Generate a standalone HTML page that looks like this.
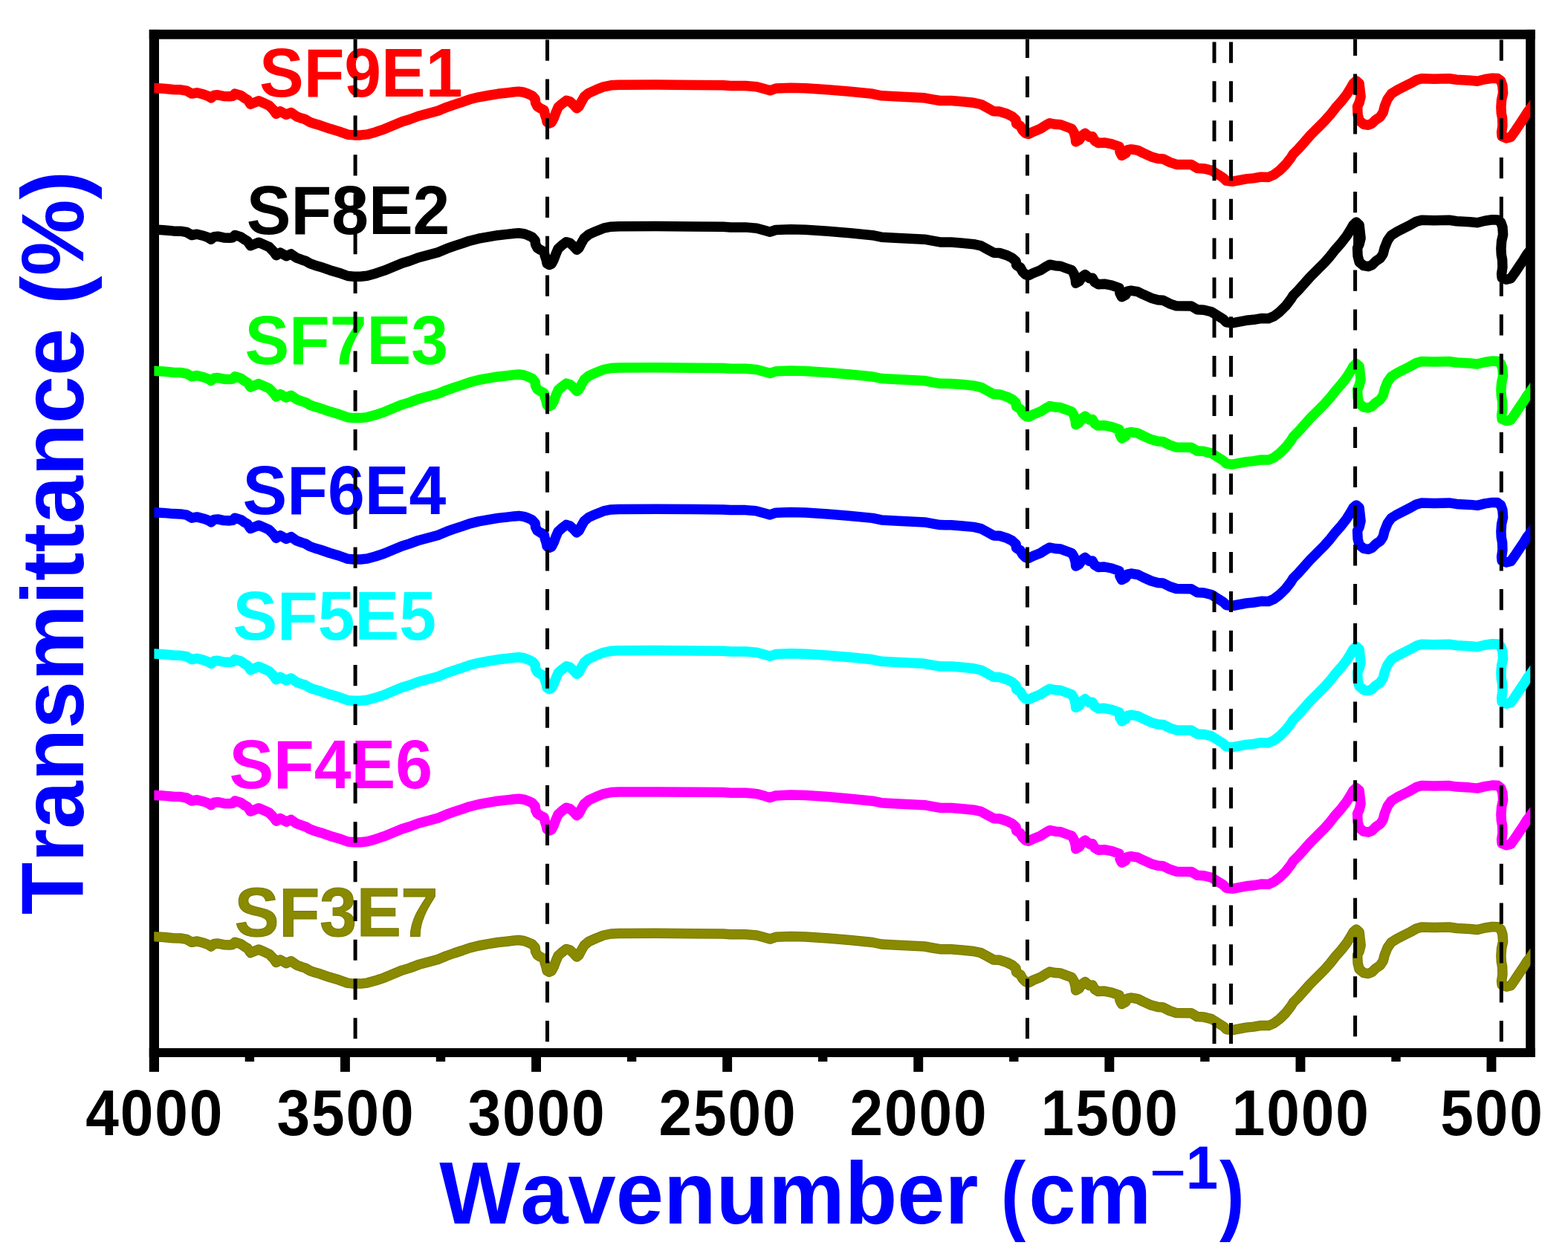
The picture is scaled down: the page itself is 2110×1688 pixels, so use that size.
<!DOCTYPE html>
<html lang="en">
<head>
<meta charset="utf-8">
<title>FTIR spectra</title>
<style>
html,body{margin:0;padding:0;background:#fff;}
body{width:2110px;height:1688px;overflow:hidden;}
svg{display:block;}
text{font-family:"Liberation Sans",sans-serif;font-weight:bold;font-kerning:none;}
.tick{font-size:84.5px;fill:#000;text-anchor:middle;}
.lab{font-size:89.5px;}
.curve{fill:none;stroke-width:13.5;stroke-linejoin:round;stroke-linecap:butt;}
.dash{stroke:#000;stroke-width:5;stroke-dasharray:28.2 24.616;}
</style>
</head>
<body>
<svg width="2110" height="1688" viewBox="0 0 2110 1688">
<rect x="0" y="0" width="2110" height="1688" fill="#ffffff"/>
<g id="labels">
<text class="lab" transform="translate(349.0,130.1) scale(1,1.04)" fill="#ff0000">SF9E1</text>
<text class="lab" transform="translate(331.8,315.4) scale(1,1.04)" fill="#000000">SF8E2</text>
<text class="lab" transform="translate(329.4,490.1) scale(1,1.04)" fill="#00ff00">SF7E3</text>
<text class="lab" transform="translate(326.6,691.9) scale(1,1.04)" fill="#0000ff">SF6E4</text>
<text class="lab" transform="translate(313.4,860.9) scale(1,1.04)" fill="#00ffff">SF5E5</text>
<text class="lab" transform="translate(308.4,1060.7) scale(1,1.04)" fill="#ff00ff">SF4E6</text>
<text class="lab" transform="translate(315.8,1260.3) scale(1,1.04)" fill="#8a8a00" stroke="#777700" stroke-width="1" paint-order="fill">SF3E7</text>
</g>
<g id="frame" fill="#000">
<rect x="200.8" y="39.9" width="1864.9" height="12.8"/>
<rect x="200.8" y="1410.9" width="1864.9" height="12.1"/>
<rect x="200.8" y="39.9" width="13.2" height="1402.9"/>
<rect x="2053.2" y="39.9" width="12.5" height="1383.1"/>
<rect x="458.0" y="1417" width="12.9" height="25.8"/>
<rect x="715.1" y="1417" width="12.9" height="25.8"/>
<rect x="972.2" y="1417" width="12.9" height="25.8"/>
<rect x="1229.3" y="1417" width="12.9" height="25.8"/>
<rect x="1486.4" y="1417" width="12.9" height="25.8"/>
<rect x="1743.5" y="1417" width="12.9" height="25.8"/>
<rect x="2000.5" y="1417" width="12.9" height="25.8"/>
<rect x="329.7" y="1417" width="12.4" height="12.0"/>
<rect x="586.8" y="1417" width="12.4" height="12.0"/>
<rect x="843.9" y="1417" width="12.4" height="12.0"/>
<rect x="1101.0" y="1417" width="12.4" height="12.0"/>
<rect x="1358.1" y="1417" width="12.4" height="12.0"/>
<rect x="1615.2" y="1417" width="12.4" height="12.0"/>
<rect x="1872.3" y="1417" width="12.4" height="12.0"/>
</g>
<g id="ticklabels">
<text class="tick" transform="translate(208.3,1528.3) scale(0.95,1.037)" style="letter-spacing:1.95px">4000</text>
<text class="tick" transform="translate(465.4,1528.3) scale(0.95,1.037)" style="letter-spacing:1.95px">3500</text>
<text class="tick" transform="translate(722.5,1528.3) scale(0.95,1.037)" style="letter-spacing:1.95px">3000</text>
<text class="tick" transform="translate(979.6,1528.3) scale(0.95,1.037)" style="letter-spacing:1.95px">2500</text>
<text class="tick" transform="translate(1236.6,1528.3) scale(0.95,1.037)" style="letter-spacing:1.95px">2000</text>
<text class="tick" transform="translate(1493.7,1528.3) scale(0.95,1.037)" style="letter-spacing:1.95px">1500</text>
<text class="tick" transform="translate(1750.8,1528.3) scale(0.95,1.037)" style="letter-spacing:1.95px">1000</text>
<text class="tick" transform="translate(2007.9,1528.3) scale(0.95,1.037)" style="letter-spacing:1.95px">500</text>
</g>
<clipPath id="plotclip"><rect x="207.4" y="40" width="1851.9" height="1383"/></clipPath>
<g id="curves" clip-path="url(#plotclip)">
<path class="curve" stroke="#ff0000" d="M194.0,117.9 L207.5,118.6 L220.0,119.3 L233.0,120.5 L243.0,120.8 L251.0,122.1 L258.1,126.1 L265.1,124.8 L274.1,127.1 L280.1,129.3 L284.1,131.8 L288.1,128.3 L293.1,127.8 L301.1,129.5 L309.1,129.8 L313.1,129.3 L316.1,126.1 L324.1,128.5 L329.1,132.1 L333.1,134.3 L337.1,140.3 L342.1,138.3 L348.1,135.8 L356.1,139.3 L362.2,142.1 L368.2,148.3 L371.7,153.3 L377.2,149.8 L385.2,154.3 L391.7,151.5 L399.2,156.8 L406.2,159.3 L411.0,160.8 L417.0,164.3 L424.0,166.8 L431.0,168.8 L444.0,173.3 L456.0,176.9 L468.1,181.2 L476.1,181.9 L485.1,181.9 L494.1,180.9 L505.1,177.9 L517.1,173.8 L529.1,168.8 L541.1,163.8 L551.1,160.8 L563.1,156.3 L576.2,152.8 L589.2,149.3 L601.2,144.3 L611.2,140.8 L622.0,137.3 L632.0,133.8 L644.0,130.8 L657.0,128.5 L670.0,126.3 L682.1,125.0 L692.1,123.8 L698.1,123.3 L705.1,124.3 L710.1,126.1 L716.1,128.8 L720.1,133.3 L720.6,138.3 L723.1,143.3 L727.1,145.8 L732.1,148.3 L733.1,153.3 L735.1,159.3 L736.1,164.3 L739.1,166.1 L742.1,164.8 L745.1,159.3 L748.1,151.3 L751.1,144.3 L756.1,139.8 L762.1,135.3 L767.1,136.8 L772.1,141.3 L776.1,145.8 L779.1,143.3 L782.2,137.3 L786.2,130.3 L792.2,125.3 L802.2,120.8 L812.2,116.8 L822.2,114.8 L833.0,114.3 L883.0,114.1 L933.1,114.5 L973.1,114.8 L983.1,115.5 L1003.2,115.5 L1018.2,116.8 L1029.2,119.8 L1036.2,121.8 L1044.0,119.1 L1064.0,118.3 L1084.0,118.8 L1114.1,120.8 L1144.1,123.3 L1174.1,126.3 L1186.1,128.8 L1204.2,129.8 L1229.2,131.1 L1244.2,131.8 L1255.0,133.8 L1265.0,135.5 L1280.0,135.6 L1295.0,136.8 L1310.1,138.3 L1320.1,140.5 L1327.1,144.3 L1337.1,149.8 L1345.1,150.1 L1355.1,153.3 L1362.1,156.8 L1367.1,161.3 L1367.6,166.3 L1373.1,169.8 L1376.1,175.4 L1380.1,179.4 L1384.1,180.4 L1390.1,177.4 L1400.1,173.3 L1407.1,168.8 L1412.6,165.8 L1420.2,167.3 L1427.2,167.8 L1435.2,170.8 L1442.2,173.3 L1445.2,178.4 L1447.2,185.4 L1447.7,190.9 L1452.2,188.4 L1456.2,182.4 L1460.2,179.4 L1466.0,184.4 L1470.0,183.8 L1473.0,189.4 L1478.0,192.4 L1486.0,191.9 L1496.0,193.9 L1506.0,197.4 L1507.0,204.4 L1509.5,209.4 L1515.0,206.4 L1517.0,201.9 L1522.1,200.9 L1531.1,202.4 L1538.1,205.9 L1549.1,210.9 L1558.1,213.4 L1565.1,213.9 L1574.1,218.4 L1583.1,221.4 L1603.1,221.6 L1611.1,226.4 L1620.1,226.9 L1630.2,229.4 L1638.2,234.4 L1646.2,239.4 L1650.2,243.4 L1658.2,244.4 L1666.2,242.9 L1677.0,240.9 L1687.0,239.9 L1697.0,238.2 L1707.0,238.4 L1714.0,235.4 L1722.0,229.4 L1730.1,221.4 L1737.1,212.4 L1740.1,207.4 L1747.1,200.4 L1755.1,191.4 L1763.1,182.3 L1772.1,173.3 L1782.1,163.3 L1790.1,154.3 L1797.1,145.3 L1805.1,136.3 L1812.1,127.3 L1817.1,119.3 L1821.1,112.3 L1825.1,108.8 L1829.1,112.3 L1830.1,121.3 L1831.1,130.3 L1829.1,138.3 L1826.6,143.3 L1827.1,154.3 L1829.1,162.3 L1835.1,167.3 L1841.2,168.3 L1846.2,166.3 L1851.2,161.3 L1857.2,157.3 L1861.2,151.3 L1863.2,143.3 L1867.2,133.3 L1872.2,126.3 L1880.2,121.3 L1888.0,117.3 L1898.0,112.3 L1906.0,107.8 L1913.0,105.8 L1930.0,106.3 L1950.1,105.8 L1960.1,107.3 L1978.1,108.3 L1988.1,109.3 L1998.1,106.8 L2008.1,105.3 L2015.1,105.5 L2019.6,108.8 L2021.9,115.3 L2022.6,125.3 L2020.6,134.3 L2019.9,144.3 L2020.3,152.3 L2021.6,159.3 L2021.9,169.4 L2020.6,178.4 L2021.1,183.4 L2027.1,185.9 L2033.1,184.4 L2038.1,177.4 L2044.1,168.4 L2050.2,159.3 L2055.2,151.3 L2059.2,146.3 L2068.2,133.3"/>
<path class="curve" stroke="#000000" d="M194.0,308.3 L207.5,309.0 L220.0,309.7 L233.0,310.9 L243.0,311.2 L251.0,312.5 L258.1,316.5 L265.1,315.2 L274.1,317.5 L280.1,319.7 L284.1,322.2 L288.1,318.7 L293.1,318.2 L301.1,319.9 L309.1,320.2 L313.1,319.7 L316.1,316.5 L324.1,318.9 L329.1,322.5 L333.1,324.7 L337.1,330.7 L342.1,328.7 L348.1,326.2 L356.1,329.7 L362.2,332.5 L368.2,338.7 L371.7,343.7 L377.2,340.2 L385.2,344.7 L391.7,341.9 L399.2,347.2 L406.2,349.7 L411.0,351.2 L417.0,354.7 L424.0,357.2 L431.0,359.2 L444.0,363.7 L456.0,367.2 L468.1,371.5 L476.1,372.2 L485.1,372.2 L494.1,371.2 L505.1,368.2 L517.1,364.2 L529.1,359.2 L541.1,354.2 L551.1,351.2 L563.1,346.7 L576.2,343.2 L589.2,339.7 L601.2,334.7 L611.2,331.2 L622.0,327.7 L632.0,324.2 L644.0,321.2 L657.0,318.9 L670.0,316.7 L682.1,315.4 L692.1,314.2 L698.1,313.7 L705.1,314.7 L710.1,316.5 L716.1,319.2 L720.1,323.7 L720.6,328.7 L723.1,333.7 L727.1,336.2 L732.1,338.7 L733.1,343.7 L735.1,349.7 L736.1,354.7 L739.1,356.5 L742.1,355.2 L745.1,349.7 L748.1,341.7 L751.1,334.7 L756.1,330.2 L762.1,325.7 L767.1,327.2 L772.1,331.7 L776.1,336.2 L779.1,333.7 L782.2,327.7 L786.2,320.7 L792.2,315.7 L802.2,311.2 L812.2,307.2 L822.2,305.2 L833.0,304.7 L883.0,304.5 L933.1,304.9 L973.1,305.2 L983.1,305.9 L1003.2,305.9 L1018.2,307.2 L1029.2,310.2 L1036.2,312.2 L1044.0,309.5 L1064.0,308.7 L1084.0,309.2 L1114.1,311.2 L1144.1,313.7 L1174.1,316.7 L1186.1,319.2 L1204.2,320.2 L1229.2,321.5 L1244.2,322.2 L1255.0,324.2 L1265.0,325.9 L1280.0,326.0 L1295.0,327.2 L1310.1,328.7 L1320.1,330.9 L1327.1,334.7 L1337.1,340.2 L1345.1,340.5 L1355.1,343.7 L1362.1,347.2 L1367.1,351.7 L1367.6,356.7 L1373.1,360.2 L1376.1,365.7 L1380.1,369.7 L1384.1,370.7 L1390.1,367.7 L1400.1,363.7 L1407.1,359.2 L1412.6,356.2 L1420.2,357.7 L1427.2,358.2 L1435.2,361.2 L1442.2,363.7 L1445.2,368.7 L1447.2,375.7 L1447.7,381.2 L1452.2,378.7 L1456.2,372.7 L1460.2,369.7 L1466.0,374.7 L1470.0,374.2 L1473.0,379.7 L1478.0,382.7 L1486.0,382.2 L1496.0,384.2 L1506.0,387.7 L1507.0,394.7 L1509.5,399.7 L1515.0,396.7 L1517.0,392.2 L1522.1,391.2 L1531.1,392.7 L1538.1,396.2 L1549.1,401.2 L1558.1,403.7 L1565.1,404.2 L1574.1,408.8 L1583.1,411.8 L1603.1,412.0 L1611.1,416.8 L1620.1,417.3 L1630.2,419.8 L1638.2,424.8 L1646.2,429.8 L1650.2,433.8 L1658.2,434.8 L1666.2,433.3 L1677.0,431.3 L1687.0,430.3 L1697.0,428.6 L1707.0,428.8 L1714.0,425.8 L1722.0,419.8 L1730.1,411.8 L1737.1,402.7 L1740.1,397.7 L1747.1,390.7 L1755.1,381.7 L1763.1,372.7 L1772.1,363.7 L1782.1,353.7 L1790.1,344.7 L1797.1,335.7 L1805.1,326.7 L1812.1,317.7 L1817.1,309.7 L1821.1,302.7 L1825.1,299.1 L1829.1,302.7 L1830.1,311.7 L1831.1,320.7 L1829.1,328.7 L1826.6,333.7 L1827.1,344.7 L1829.1,352.7 L1835.1,357.7 L1841.2,358.7 L1846.2,356.7 L1851.2,351.7 L1857.2,347.7 L1861.2,341.7 L1863.2,333.7 L1867.2,323.7 L1872.2,316.7 L1880.2,311.7 L1888.0,307.7 L1898.0,302.7 L1906.0,298.2 L1913.0,296.2 L1930.0,296.7 L1950.1,296.2 L1960.1,297.7 L1978.1,298.7 L1988.1,299.7 L1998.1,297.2 L2008.1,295.7 L2015.1,295.9 L2019.6,299.2 L2021.9,305.7 L2022.6,315.7 L2020.6,324.7 L2019.9,334.7 L2020.3,342.7 L2021.6,349.7 L2021.9,359.7 L2020.6,368.7 L2021.1,373.7 L2027.1,376.2 L2033.1,374.7 L2038.1,367.7 L2044.1,358.7 L2050.2,349.7 L2055.2,341.7 L2059.2,336.7 L2068.2,323.7"/>
<path class="curve" stroke="#00ff00" d="M194.0,498.6 L207.5,499.3 L220.0,500.0 L233.0,501.2 L243.0,501.5 L251.0,502.8 L258.1,506.8 L265.1,505.5 L274.1,507.8 L280.1,510.0 L284.1,512.5 L288.1,509.0 L293.1,508.5 L301.1,510.2 L309.1,510.5 L313.1,510.0 L316.1,506.8 L324.1,509.2 L329.1,512.9 L333.1,515.1 L337.1,521.1 L342.1,519.1 L348.1,516.6 L356.1,520.1 L362.2,522.9 L368.2,529.1 L371.7,534.1 L377.2,530.6 L385.2,535.1 L391.7,532.3 L399.2,537.6 L406.2,540.1 L411.0,541.6 L417.0,545.1 L424.0,547.6 L431.0,549.6 L444.0,554.1 L456.0,557.6 L468.1,561.9 L476.1,562.6 L485.1,562.6 L494.1,561.6 L505.1,558.6 L517.1,554.6 L529.1,549.6 L541.1,544.6 L551.1,541.6 L563.1,537.1 L576.2,533.6 L589.2,530.1 L601.2,525.1 L611.2,521.6 L622.0,518.1 L632.0,514.6 L644.0,511.5 L657.0,509.2 L670.0,507.0 L682.1,505.7 L692.1,504.5 L698.1,504.0 L705.1,505.0 L710.1,506.8 L716.1,509.5 L720.1,514.1 L720.6,519.1 L723.1,524.1 L727.1,526.6 L732.1,529.1 L733.1,534.1 L735.1,540.1 L736.1,545.1 L739.1,546.9 L742.1,545.6 L745.1,540.1 L748.1,532.1 L751.1,525.1 L756.1,520.6 L762.1,516.1 L767.1,517.6 L772.1,522.1 L776.1,526.6 L779.1,524.1 L782.2,518.1 L786.2,511.0 L792.2,506.0 L802.2,501.5 L812.2,497.5 L822.2,495.5 L833.0,495.0 L883.0,494.8 L933.1,495.2 L973.1,495.5 L983.1,496.2 L1003.2,496.2 L1018.2,497.5 L1029.2,500.5 L1036.2,502.5 L1044.0,499.8 L1064.0,499.0 L1084.0,499.5 L1114.1,501.5 L1144.1,504.0 L1174.1,507.0 L1186.1,509.5 L1204.2,510.5 L1229.2,511.8 L1244.2,512.5 L1255.0,514.6 L1265.0,516.3 L1280.0,516.4 L1295.0,517.6 L1310.1,519.1 L1320.1,521.3 L1327.1,525.1 L1337.1,530.6 L1345.1,530.9 L1355.1,534.1 L1362.1,537.6 L1367.1,542.1 L1367.6,547.1 L1373.1,550.6 L1376.1,556.1 L1380.1,560.1 L1384.1,561.1 L1390.1,558.1 L1400.1,554.1 L1407.1,549.6 L1412.6,546.6 L1420.2,548.1 L1427.2,548.6 L1435.2,551.6 L1442.2,554.1 L1445.2,559.1 L1447.2,566.1 L1447.7,571.6 L1452.2,569.1 L1456.2,563.1 L1460.2,560.1 L1466.0,565.1 L1470.0,564.6 L1473.0,570.1 L1478.0,573.1 L1486.0,572.6 L1496.0,574.6 L1506.0,578.1 L1507.0,585.1 L1509.5,590.1 L1515.0,587.1 L1517.0,582.6 L1522.1,581.6 L1531.1,583.1 L1538.1,586.6 L1549.1,591.6 L1558.1,594.1 L1565.1,594.6 L1574.1,599.1 L1583.1,602.1 L1603.1,602.3 L1611.1,607.1 L1620.1,607.6 L1630.2,610.1 L1638.2,615.1 L1646.2,620.1 L1650.2,624.1 L1658.2,625.1 L1666.2,623.6 L1677.0,621.6 L1687.0,620.6 L1697.0,618.9 L1707.0,619.1 L1714.0,616.1 L1722.0,610.1 L1730.1,602.1 L1737.1,593.1 L1740.1,588.1 L1747.1,581.1 L1755.1,572.1 L1763.1,563.1 L1772.1,554.1 L1782.1,544.1 L1790.1,535.1 L1797.1,526.1 L1805.1,517.0 L1812.1,508.0 L1817.1,500.0 L1821.1,493.0 L1825.1,489.5 L1829.1,493.0 L1830.1,502.0 L1831.1,511.0 L1829.1,519.0 L1826.6,524.1 L1827.1,535.1 L1829.1,543.1 L1835.1,548.1 L1841.2,549.1 L1846.2,547.1 L1851.2,542.1 L1857.2,538.1 L1861.2,532.1 L1863.2,524.1 L1867.2,514.0 L1872.2,507.0 L1880.2,502.0 L1888.0,498.0 L1898.0,493.0 L1906.0,488.5 L1913.0,486.5 L1930.0,487.0 L1950.1,486.5 L1960.1,488.0 L1978.1,489.0 L1988.1,490.0 L1998.1,487.5 L2008.1,486.0 L2015.1,486.2 L2019.6,489.5 L2021.9,496.0 L2022.6,506.1 L2020.6,515.1 L2019.9,525.1 L2020.3,533.1 L2021.6,540.1 L2021.9,550.1 L2020.6,559.1 L2021.1,564.1 L2027.1,566.6 L2033.1,565.1 L2038.1,558.1 L2044.1,549.1 L2050.2,540.1 L2055.2,532.1 L2059.2,527.1 L2068.2,514.1"/>
<path class="curve" stroke="#0000ff" d="M194.0,689.0 L207.5,689.7 L220.0,690.4 L233.0,691.6 L243.0,691.9 L251.0,693.2 L258.1,697.2 L265.1,695.9 L274.1,698.2 L280.1,700.4 L284.1,702.9 L288.1,699.4 L293.1,698.9 L301.1,700.6 L309.1,700.9 L313.1,700.4 L316.1,697.2 L324.1,699.6 L329.1,703.2 L333.1,705.4 L337.1,711.4 L342.1,709.4 L348.1,706.9 L356.1,710.4 L362.2,713.2 L368.2,719.4 L371.7,724.4 L377.2,720.9 L385.2,725.4 L391.7,722.6 L399.2,727.9 L406.2,730.4 L411.0,731.9 L417.0,735.5 L424.0,738.0 L431.0,740.0 L444.0,744.5 L456.0,748.0 L468.1,752.3 L476.1,753.0 L485.1,753.0 L494.1,752.0 L505.1,749.0 L517.1,745.0 L529.1,740.0 L541.1,735.0 L551.1,731.9 L563.1,727.4 L576.2,723.9 L589.2,720.4 L601.2,715.4 L611.2,711.9 L622.0,708.4 L632.0,704.9 L644.0,701.9 L657.0,699.6 L670.0,697.4 L682.1,696.1 L692.1,694.9 L698.1,694.4 L705.1,695.4 L710.1,697.2 L716.1,699.9 L720.1,704.4 L720.6,709.4 L723.1,714.4 L727.1,716.9 L732.1,719.4 L733.1,724.4 L735.1,730.4 L736.1,735.5 L739.1,737.3 L742.1,736.0 L745.1,730.4 L748.1,722.4 L751.1,715.4 L756.1,710.9 L762.1,706.4 L767.1,707.9 L772.1,712.4 L776.1,716.9 L779.1,714.4 L782.2,708.4 L786.2,701.4 L792.2,696.4 L802.2,691.9 L812.2,687.9 L822.2,685.9 L833.0,685.4 L883.0,685.2 L933.1,685.6 L973.1,685.9 L983.1,686.6 L1003.2,686.6 L1018.2,687.9 L1029.2,690.9 L1036.2,692.9 L1044.0,690.2 L1064.0,689.4 L1084.0,689.9 L1114.1,691.9 L1144.1,694.4 L1174.1,697.4 L1186.1,699.9 L1204.2,700.9 L1229.2,702.2 L1244.2,702.9 L1255.0,704.9 L1265.0,706.6 L1280.0,706.7 L1295.0,707.9 L1310.1,709.4 L1320.1,711.6 L1327.1,715.4 L1337.1,720.9 L1345.1,721.2 L1355.1,724.4 L1362.1,727.9 L1367.1,732.4 L1367.6,737.5 L1373.1,741.0 L1376.1,746.5 L1380.1,750.5 L1384.1,751.5 L1390.1,748.5 L1400.1,744.5 L1407.1,740.0 L1412.6,737.0 L1420.2,738.5 L1427.2,739.0 L1435.2,742.0 L1442.2,744.5 L1445.2,749.5 L1447.2,756.5 L1447.7,762.0 L1452.2,759.5 L1456.2,753.5 L1460.2,750.5 L1466.0,755.5 L1470.0,755.0 L1473.0,760.5 L1478.0,763.5 L1486.0,763.0 L1496.0,765.0 L1506.0,768.5 L1507.0,775.5 L1509.5,780.5 L1515.0,777.5 L1517.0,773.0 L1522.1,772.0 L1531.1,773.5 L1538.1,777.0 L1549.1,782.0 L1558.1,784.5 L1565.1,785.0 L1574.1,789.5 L1583.1,792.5 L1603.1,792.7 L1611.1,797.5 L1620.1,798.0 L1630.2,800.5 L1638.2,805.5 L1646.2,810.5 L1650.2,814.5 L1658.2,815.5 L1666.2,814.0 L1677.0,812.0 L1687.0,811.0 L1697.0,809.3 L1707.0,809.5 L1714.0,806.5 L1722.0,800.5 L1730.1,792.5 L1737.1,783.5 L1740.1,778.5 L1747.1,771.5 L1755.1,762.5 L1763.1,753.5 L1772.1,744.4 L1782.1,734.4 L1790.1,725.4 L1797.1,716.4 L1805.1,707.4 L1812.1,698.4 L1817.1,690.4 L1821.1,683.4 L1825.1,679.9 L1829.1,683.4 L1830.1,692.4 L1831.1,701.4 L1829.1,709.4 L1826.6,714.4 L1827.1,725.4 L1829.1,733.4 L1835.1,738.4 L1841.2,739.4 L1846.2,737.4 L1851.2,732.4 L1857.2,728.4 L1861.2,722.4 L1863.2,714.4 L1867.2,704.4 L1872.2,697.4 L1880.2,692.4 L1888.0,688.4 L1898.0,683.4 L1906.0,678.9 L1913.0,676.9 L1930.0,677.4 L1950.1,676.9 L1960.1,678.4 L1978.1,679.4 L1988.1,680.4 L1998.1,677.9 L2008.1,676.4 L2015.1,676.6 L2019.6,679.9 L2021.9,686.4 L2022.6,696.4 L2020.6,705.4 L2019.9,715.4 L2020.3,723.4 L2021.6,730.5 L2021.9,740.5 L2020.6,749.5 L2021.1,754.5 L2027.1,757.0 L2033.1,755.5 L2038.1,748.5 L2044.1,739.5 L2050.2,730.5 L2055.2,722.4 L2059.2,717.4 L2068.2,704.4"/>
<path class="curve" stroke="#00ffff" d="M194.0,879.4 L207.5,880.1 L220.0,880.8 L233.0,882.0 L243.0,882.3 L251.0,883.6 L258.1,887.6 L265.1,886.3 L274.1,888.6 L280.1,890.8 L284.1,893.3 L288.1,889.8 L293.1,889.3 L301.1,891.0 L309.1,891.3 L313.1,890.8 L316.1,887.6 L324.1,890.0 L329.1,893.6 L333.1,895.8 L337.1,901.8 L342.1,899.8 L348.1,897.3 L356.1,900.8 L362.2,903.6 L368.2,909.8 L371.7,914.8 L377.2,911.3 L385.2,915.8 L391.7,913.0 L399.2,918.3 L406.2,920.8 L411.0,922.3 L417.0,925.8 L424.0,928.3 L431.0,930.3 L444.0,934.8 L456.0,938.3 L468.1,942.6 L476.1,943.3 L485.1,943.3 L494.1,942.3 L505.1,939.3 L517.1,935.3 L529.1,930.3 L541.1,925.3 L551.1,922.3 L563.1,917.8 L576.2,914.3 L589.2,910.8 L601.2,905.8 L611.2,902.3 L622.0,898.8 L632.0,895.3 L644.0,892.3 L657.0,890.0 L670.0,887.8 L682.1,886.5 L692.1,885.3 L698.1,884.8 L705.1,885.8 L710.1,887.6 L716.1,890.3 L720.1,894.8 L720.6,899.8 L723.1,904.8 L727.1,907.3 L732.1,909.8 L733.1,914.8 L735.1,920.8 L736.1,925.8 L739.1,927.6 L742.1,926.3 L745.1,920.8 L748.1,912.8 L751.1,905.8 L756.1,901.3 L762.1,896.8 L767.1,898.3 L772.1,902.8 L776.1,907.3 L779.1,904.8 L782.2,898.8 L786.2,891.8 L792.2,886.8 L802.2,882.3 L812.2,878.3 L822.2,876.3 L833.0,875.8 L883.0,875.6 L933.1,876.0 L973.1,876.3 L983.1,877.0 L1003.2,877.0 L1018.2,878.3 L1029.2,881.3 L1036.2,883.3 L1044.0,880.6 L1064.0,879.8 L1084.0,880.3 L1114.1,882.3 L1144.1,884.8 L1174.1,887.8 L1186.1,890.3 L1204.2,891.3 L1229.2,892.6 L1244.2,893.3 L1255.0,895.3 L1265.0,897.0 L1280.0,897.1 L1295.0,898.3 L1310.1,899.8 L1320.1,902.0 L1327.1,905.8 L1337.1,911.3 L1345.1,911.6 L1355.1,914.8 L1362.1,918.3 L1367.1,922.8 L1367.6,927.8 L1373.1,931.3 L1376.1,936.8 L1380.1,940.8 L1384.1,941.8 L1390.1,938.8 L1400.1,934.8 L1407.1,930.3 L1412.6,927.3 L1420.2,928.8 L1427.2,929.3 L1435.2,932.3 L1442.2,934.8 L1445.2,939.8 L1447.2,946.8 L1447.7,952.3 L1452.2,949.8 L1456.2,943.8 L1460.2,940.8 L1466.0,945.8 L1470.0,945.3 L1473.0,950.8 L1478.0,953.8 L1486.0,953.3 L1496.0,955.3 L1506.0,958.8 L1507.0,965.8 L1509.5,970.9 L1515.0,967.9 L1517.0,963.3 L1522.1,962.3 L1531.1,963.8 L1538.1,967.4 L1549.1,972.4 L1558.1,974.9 L1565.1,975.4 L1574.1,979.9 L1583.1,982.9 L1603.1,983.1 L1611.1,987.9 L1620.1,988.4 L1630.2,990.9 L1638.2,995.9 L1646.2,1000.9 L1650.2,1004.9 L1658.2,1005.9 L1666.2,1004.4 L1677.0,1002.4 L1687.0,1001.4 L1697.0,999.7 L1707.0,999.9 L1714.0,996.9 L1722.0,990.9 L1730.1,982.9 L1737.1,973.9 L1740.1,968.9 L1747.1,961.8 L1755.1,952.8 L1763.1,943.8 L1772.1,934.8 L1782.1,924.8 L1790.1,915.8 L1797.1,906.8 L1805.1,897.8 L1812.1,888.8 L1817.1,880.8 L1821.1,873.8 L1825.1,870.3 L1829.1,873.8 L1830.1,882.8 L1831.1,891.8 L1829.1,899.8 L1826.6,904.8 L1827.1,915.8 L1829.1,923.8 L1835.1,928.8 L1841.2,929.8 L1846.2,927.8 L1851.2,922.8 L1857.2,918.8 L1861.2,912.8 L1863.2,904.8 L1867.2,894.8 L1872.2,887.8 L1880.2,882.8 L1888.0,878.8 L1898.0,873.8 L1906.0,869.3 L1913.0,867.3 L1930.0,867.8 L1950.1,867.3 L1960.1,868.8 L1978.1,869.8 L1988.1,870.8 L1998.1,868.3 L2008.1,866.8 L2015.1,867.0 L2019.6,870.3 L2021.9,876.8 L2022.6,886.8 L2020.6,895.8 L2019.9,905.8 L2020.3,913.8 L2021.6,920.8 L2021.9,930.8 L2020.6,939.8 L2021.1,944.8 L2027.1,947.4 L2033.1,945.8 L2038.1,938.8 L2044.1,929.8 L2050.2,920.8 L2055.2,912.8 L2059.2,907.8 L2068.2,894.8"/>
<path class="curve" stroke="#ff00ff" d="M194.0,1069.7 L207.5,1070.4 L220.0,1071.1 L233.0,1072.3 L243.0,1072.6 L251.0,1074.0 L258.1,1078.0 L265.1,1076.7 L274.1,1079.0 L280.1,1081.2 L284.1,1083.7 L288.1,1080.2 L293.1,1079.7 L301.1,1081.4 L309.1,1081.7 L313.1,1081.2 L316.1,1078.0 L324.1,1080.4 L329.1,1084.0 L333.1,1086.2 L337.1,1092.2 L342.1,1090.2 L348.1,1087.7 L356.1,1091.2 L362.2,1094.0 L368.2,1100.2 L371.7,1105.2 L377.2,1101.7 L385.2,1106.2 L391.7,1103.4 L399.2,1108.7 L406.2,1111.2 L411.0,1112.7 L417.0,1116.2 L424.0,1118.7 L431.0,1120.7 L444.0,1125.2 L456.0,1128.7 L468.1,1133.0 L476.1,1133.7 L485.1,1133.7 L494.1,1132.7 L505.1,1129.7 L517.1,1125.7 L529.1,1120.7 L541.1,1115.7 L551.1,1112.7 L563.1,1108.2 L576.2,1104.7 L589.2,1101.2 L601.2,1096.2 L611.2,1092.7 L622.0,1089.2 L632.0,1085.7 L644.0,1082.7 L657.0,1080.4 L670.0,1078.2 L682.1,1076.9 L692.1,1075.7 L698.1,1075.2 L705.1,1076.2 L710.1,1078.0 L716.1,1080.7 L720.1,1085.2 L720.6,1090.2 L723.1,1095.2 L727.1,1097.7 L732.1,1100.2 L733.1,1105.2 L735.1,1111.2 L736.1,1116.2 L739.1,1118.0 L742.1,1116.7 L745.1,1111.2 L748.1,1103.2 L751.1,1096.2 L756.1,1091.7 L762.1,1087.2 L767.1,1088.7 L772.1,1093.2 L776.1,1097.7 L779.1,1095.2 L782.2,1089.2 L786.2,1082.2 L792.2,1077.2 L802.2,1072.6 L812.2,1068.6 L822.2,1066.6 L833.0,1066.1 L883.0,1065.9 L933.1,1066.3 L973.1,1066.6 L983.1,1067.3 L1003.2,1067.3 L1018.2,1068.6 L1029.2,1071.6 L1036.2,1073.7 L1044.0,1070.9 L1064.0,1070.1 L1084.0,1070.6 L1114.1,1072.6 L1144.1,1075.2 L1174.1,1078.2 L1186.1,1080.7 L1204.2,1081.7 L1229.2,1083.0 L1244.2,1083.7 L1255.0,1085.7 L1265.0,1087.4 L1280.0,1087.5 L1295.0,1088.7 L1310.1,1090.2 L1320.1,1092.4 L1327.1,1096.2 L1337.1,1101.7 L1345.1,1102.0 L1355.1,1105.2 L1362.1,1108.7 L1367.1,1113.2 L1367.6,1118.2 L1373.1,1121.7 L1376.1,1127.2 L1380.1,1131.2 L1384.1,1132.2 L1390.1,1129.2 L1400.1,1125.2 L1407.1,1120.7 L1412.6,1117.7 L1420.2,1119.2 L1427.2,1119.7 L1435.2,1122.7 L1442.2,1125.2 L1445.2,1130.2 L1447.2,1137.2 L1447.7,1142.7 L1452.2,1140.2 L1456.2,1134.2 L1460.2,1131.2 L1466.0,1136.2 L1470.0,1135.7 L1473.0,1141.2 L1478.0,1144.2 L1486.0,1143.7 L1496.0,1145.7 L1506.0,1149.2 L1507.0,1156.2 L1509.5,1161.2 L1515.0,1158.2 L1517.0,1153.7 L1522.1,1152.7 L1531.1,1154.2 L1538.1,1157.7 L1549.1,1162.7 L1558.1,1165.2 L1565.1,1165.7 L1574.1,1170.2 L1583.1,1173.2 L1603.1,1173.4 L1611.1,1178.2 L1620.1,1178.7 L1630.2,1181.2 L1638.2,1186.2 L1646.2,1191.3 L1650.2,1195.3 L1658.2,1196.3 L1666.2,1194.8 L1677.0,1192.8 L1687.0,1191.8 L1697.0,1190.1 L1707.0,1190.3 L1714.0,1187.2 L1722.0,1181.2 L1730.1,1173.2 L1737.1,1164.2 L1740.1,1159.2 L1747.1,1152.2 L1755.1,1143.2 L1763.1,1134.2 L1772.1,1125.2 L1782.1,1115.2 L1790.1,1106.2 L1797.1,1097.2 L1805.1,1088.2 L1812.1,1079.1 L1817.1,1071.1 L1821.1,1064.1 L1825.1,1060.6 L1829.1,1064.1 L1830.1,1073.1 L1831.1,1082.1 L1829.1,1090.2 L1826.6,1095.2 L1827.1,1106.2 L1829.1,1114.2 L1835.1,1119.2 L1841.2,1120.2 L1846.2,1118.2 L1851.2,1113.2 L1857.2,1109.2 L1861.2,1103.2 L1863.2,1095.2 L1867.2,1085.2 L1872.2,1078.1 L1880.2,1073.1 L1888.0,1069.2 L1898.0,1064.2 L1906.0,1059.6 L1913.0,1057.6 L1930.0,1058.1 L1950.1,1057.6 L1960.1,1059.1 L1978.1,1060.1 L1988.1,1061.1 L1998.1,1058.6 L2008.1,1057.1 L2015.1,1057.3 L2019.6,1060.6 L2021.9,1067.2 L2022.6,1077.2 L2020.6,1086.2 L2019.9,1096.2 L2020.3,1104.2 L2021.6,1111.2 L2021.9,1121.2 L2020.6,1130.2 L2021.1,1135.2 L2027.1,1137.7 L2033.1,1136.2 L2038.1,1129.2 L2044.1,1120.2 L2050.2,1111.2 L2055.2,1103.2 L2059.2,1098.2 L2068.2,1085.2"/>
<path class="curve" stroke="#777700" d="M194.0,1260.1 L207.5,1260.8 L220.0,1261.5 L233.0,1262.7 L243.0,1263.0 L251.0,1264.3 L258.1,1268.3 L265.1,1267.0 L274.1,1269.3 L280.1,1271.5 L284.1,1274.0 L288.1,1270.5 L293.1,1270.0 L301.1,1271.7 L309.1,1272.0 L313.1,1271.5 L316.1,1268.3 L324.1,1270.7 L329.1,1274.3 L333.1,1276.5 L337.1,1282.5 L342.1,1280.5 L348.1,1278.0 L356.1,1281.5 L362.2,1284.3 L368.2,1290.5 L371.7,1295.6 L377.2,1292.0 L385.2,1296.6 L391.7,1293.7 L399.2,1299.1 L406.2,1301.6 L411.0,1303.1 L417.0,1306.6 L424.0,1309.1 L431.0,1311.1 L444.0,1315.6 L456.0,1319.1 L468.1,1323.4 L476.1,1324.1 L485.1,1324.1 L494.1,1323.1 L505.1,1320.1 L517.1,1316.1 L529.1,1311.1 L541.1,1306.1 L551.1,1303.1 L563.1,1298.6 L576.2,1295.0 L589.2,1291.5 L601.2,1286.5 L611.2,1283.0 L622.0,1279.5 L632.0,1276.0 L644.0,1273.0 L657.0,1270.7 L670.0,1268.5 L682.1,1267.2 L692.1,1266.0 L698.1,1265.5 L705.1,1266.5 L710.1,1268.3 L716.1,1271.0 L720.1,1275.5 L720.6,1280.5 L723.1,1285.5 L727.1,1288.0 L732.1,1290.5 L733.1,1295.6 L735.1,1301.6 L736.1,1306.6 L739.1,1308.4 L742.1,1307.1 L745.1,1301.6 L748.1,1293.5 L751.1,1286.5 L756.1,1282.0 L762.1,1277.5 L767.1,1279.0 L772.1,1283.5 L776.1,1288.0 L779.1,1285.5 L782.2,1279.5 L786.2,1272.5 L792.2,1267.5 L802.2,1263.0 L812.2,1259.0 L822.2,1257.0 L833.0,1256.5 L883.0,1256.3 L933.1,1256.7 L973.1,1257.0 L983.1,1257.7 L1003.2,1257.7 L1018.2,1259.0 L1029.2,1262.0 L1036.2,1264.0 L1044.0,1261.3 L1064.0,1260.5 L1084.0,1261.0 L1114.1,1263.0 L1144.1,1265.5 L1174.1,1268.5 L1186.1,1271.0 L1204.2,1272.0 L1229.2,1273.3 L1244.2,1274.0 L1255.0,1276.0 L1265.0,1277.7 L1280.0,1277.8 L1295.0,1279.0 L1310.1,1280.5 L1320.1,1282.7 L1327.1,1286.5 L1337.1,1292.0 L1345.1,1292.3 L1355.1,1295.6 L1362.1,1299.1 L1367.1,1303.6 L1367.6,1308.6 L1373.1,1312.1 L1376.1,1317.6 L1380.1,1321.6 L1384.1,1322.6 L1390.1,1319.6 L1400.1,1315.6 L1407.1,1311.1 L1412.6,1308.1 L1420.2,1309.6 L1427.2,1310.1 L1435.2,1313.1 L1442.2,1315.6 L1445.2,1320.6 L1447.2,1327.6 L1447.7,1333.1 L1452.2,1330.6 L1456.2,1324.6 L1460.2,1321.6 L1466.0,1326.6 L1470.0,1326.1 L1473.0,1331.6 L1478.0,1334.6 L1486.0,1334.1 L1496.0,1336.1 L1506.0,1339.6 L1507.0,1346.6 L1509.5,1351.6 L1515.0,1348.6 L1517.0,1344.1 L1522.1,1343.1 L1531.1,1344.6 L1538.1,1348.1 L1549.1,1353.1 L1558.1,1355.6 L1565.1,1356.1 L1574.1,1360.6 L1583.1,1363.6 L1603.1,1363.8 L1611.1,1368.6 L1620.1,1369.1 L1630.2,1371.6 L1638.2,1376.6 L1646.2,1381.6 L1650.2,1385.6 L1658.2,1386.6 L1666.2,1385.1 L1677.0,1383.1 L1687.0,1382.1 L1697.0,1380.4 L1707.0,1380.6 L1714.0,1377.6 L1722.0,1371.6 L1730.1,1363.6 L1737.1,1354.6 L1740.1,1349.6 L1747.1,1342.6 L1755.1,1333.6 L1763.1,1324.6 L1772.1,1315.6 L1782.1,1305.6 L1790.1,1296.5 L1797.1,1287.5 L1805.1,1278.5 L1812.1,1269.5 L1817.1,1261.5 L1821.1,1254.5 L1825.1,1251.0 L1829.1,1254.5 L1830.1,1263.5 L1831.1,1272.5 L1829.1,1280.5 L1826.6,1285.5 L1827.1,1296.5 L1829.1,1304.5 L1835.1,1309.6 L1841.2,1310.6 L1846.2,1308.6 L1851.2,1303.5 L1857.2,1299.5 L1861.2,1293.5 L1863.2,1285.5 L1867.2,1275.5 L1872.2,1268.5 L1880.2,1263.5 L1888.0,1259.5 L1898.0,1254.5 L1906.0,1250.0 L1913.0,1248.0 L1930.0,1248.5 L1950.1,1248.0 L1960.1,1249.5 L1978.1,1250.5 L1988.1,1251.5 L1998.1,1249.0 L2008.1,1247.5 L2015.1,1247.7 L2019.6,1251.0 L2021.9,1257.5 L2022.6,1267.5 L2020.6,1276.5 L2019.9,1286.6 L2020.3,1294.6 L2021.6,1301.6 L2021.9,1311.6 L2020.6,1320.6 L2021.1,1325.6 L2027.1,1328.1 L2033.1,1326.6 L2038.1,1319.6 L2044.1,1310.6 L2050.2,1301.6 L2055.2,1293.6 L2059.2,1288.6 L2068.2,1275.5"/>
<path class="curve" stroke="#8a8a00" style="stroke-width:11.5" d="M194.0,1260.1 L207.5,1260.8 L220.0,1261.5 L233.0,1262.7 L243.0,1263.0 L251.0,1264.3 L258.1,1268.3 L265.1,1267.0 L274.1,1269.3 L280.1,1271.5 L284.1,1274.0 L288.1,1270.5 L293.1,1270.0 L301.1,1271.7 L309.1,1272.0 L313.1,1271.5 L316.1,1268.3 L324.1,1270.7 L329.1,1274.3 L333.1,1276.5 L337.1,1282.5 L342.1,1280.5 L348.1,1278.0 L356.1,1281.5 L362.2,1284.3 L368.2,1290.5 L371.7,1295.6 L377.2,1292.0 L385.2,1296.6 L391.7,1293.7 L399.2,1299.1 L406.2,1301.6 L411.0,1303.1 L417.0,1306.6 L424.0,1309.1 L431.0,1311.1 L444.0,1315.6 L456.0,1319.1 L468.1,1323.4 L476.1,1324.1 L485.1,1324.1 L494.1,1323.1 L505.1,1320.1 L517.1,1316.1 L529.1,1311.1 L541.1,1306.1 L551.1,1303.1 L563.1,1298.6 L576.2,1295.0 L589.2,1291.5 L601.2,1286.5 L611.2,1283.0 L622.0,1279.5 L632.0,1276.0 L644.0,1273.0 L657.0,1270.7 L670.0,1268.5 L682.1,1267.2 L692.1,1266.0 L698.1,1265.5 L705.1,1266.5 L710.1,1268.3 L716.1,1271.0 L720.1,1275.5 L720.6,1280.5 L723.1,1285.5 L727.1,1288.0 L732.1,1290.5 L733.1,1295.6 L735.1,1301.6 L736.1,1306.6 L739.1,1308.4 L742.1,1307.1 L745.1,1301.6 L748.1,1293.5 L751.1,1286.5 L756.1,1282.0 L762.1,1277.5 L767.1,1279.0 L772.1,1283.5 L776.1,1288.0 L779.1,1285.5 L782.2,1279.5 L786.2,1272.5 L792.2,1267.5 L802.2,1263.0 L812.2,1259.0 L822.2,1257.0 L833.0,1256.5 L883.0,1256.3 L933.1,1256.7 L973.1,1257.0 L983.1,1257.7 L1003.2,1257.7 L1018.2,1259.0 L1029.2,1262.0 L1036.2,1264.0 L1044.0,1261.3 L1064.0,1260.5 L1084.0,1261.0 L1114.1,1263.0 L1144.1,1265.5 L1174.1,1268.5 L1186.1,1271.0 L1204.2,1272.0 L1229.2,1273.3 L1244.2,1274.0 L1255.0,1276.0 L1265.0,1277.7 L1280.0,1277.8 L1295.0,1279.0 L1310.1,1280.5 L1320.1,1282.7 L1327.1,1286.5 L1337.1,1292.0 L1345.1,1292.3 L1355.1,1295.6 L1362.1,1299.1 L1367.1,1303.6 L1367.6,1308.6 L1373.1,1312.1 L1376.1,1317.6 L1380.1,1321.6 L1384.1,1322.6 L1390.1,1319.6 L1400.1,1315.6 L1407.1,1311.1 L1412.6,1308.1 L1420.2,1309.6 L1427.2,1310.1 L1435.2,1313.1 L1442.2,1315.6 L1445.2,1320.6 L1447.2,1327.6 L1447.7,1333.1 L1452.2,1330.6 L1456.2,1324.6 L1460.2,1321.6 L1466.0,1326.6 L1470.0,1326.1 L1473.0,1331.6 L1478.0,1334.6 L1486.0,1334.1 L1496.0,1336.1 L1506.0,1339.6 L1507.0,1346.6 L1509.5,1351.6 L1515.0,1348.6 L1517.0,1344.1 L1522.1,1343.1 L1531.1,1344.6 L1538.1,1348.1 L1549.1,1353.1 L1558.1,1355.6 L1565.1,1356.1 L1574.1,1360.6 L1583.1,1363.6 L1603.1,1363.8 L1611.1,1368.6 L1620.1,1369.1 L1630.2,1371.6 L1638.2,1376.6 L1646.2,1381.6 L1650.2,1385.6 L1658.2,1386.6 L1666.2,1385.1 L1677.0,1383.1 L1687.0,1382.1 L1697.0,1380.4 L1707.0,1380.6 L1714.0,1377.6 L1722.0,1371.6 L1730.1,1363.6 L1737.1,1354.6 L1740.1,1349.6 L1747.1,1342.6 L1755.1,1333.6 L1763.1,1324.6 L1772.1,1315.6 L1782.1,1305.6 L1790.1,1296.5 L1797.1,1287.5 L1805.1,1278.5 L1812.1,1269.5 L1817.1,1261.5 L1821.1,1254.5 L1825.1,1251.0 L1829.1,1254.5 L1830.1,1263.5 L1831.1,1272.5 L1829.1,1280.5 L1826.6,1285.5 L1827.1,1296.5 L1829.1,1304.5 L1835.1,1309.6 L1841.2,1310.6 L1846.2,1308.6 L1851.2,1303.5 L1857.2,1299.5 L1861.2,1293.5 L1863.2,1285.5 L1867.2,1275.5 L1872.2,1268.5 L1880.2,1263.5 L1888.0,1259.5 L1898.0,1254.5 L1906.0,1250.0 L1913.0,1248.0 L1930.0,1248.5 L1950.1,1248.0 L1960.1,1249.5 L1978.1,1250.5 L1988.1,1251.5 L1998.1,1249.0 L2008.1,1247.5 L2015.1,1247.7 L2019.6,1251.0 L2021.9,1257.5 L2022.6,1267.5 L2020.6,1276.5 L2019.9,1286.6 L2020.3,1294.6 L2021.6,1301.6 L2021.9,1311.6 L2020.6,1320.6 L2021.1,1325.6 L2027.1,1328.1 L2033.1,1326.6 L2038.1,1319.6 L2044.1,1310.6 L2050.2,1301.6 L2055.2,1293.6 L2059.2,1288.6 L2068.2,1275.5"/>
</g>
<g id="markers">
<line class="dash" x1="478.1" y1="52.7" x2="478.1" y2="1398.3" stroke-dashoffset="2.8"/>
<line class="dash" x1="736.5" y1="53.6" x2="736.5" y2="1402.6" stroke-dashoffset="0.0"/>
<line class="dash" x1="1382.5" y1="52.7" x2="1382.5" y2="1398.3" stroke-dashoffset="2.8"/>
<line class="dash" x1="1634.0" y1="56.5" x2="1634.0" y2="1405.4" stroke-dashoffset="0.0"/>
<line class="dash" x1="1656.5" y1="56.5" x2="1656.5" y2="1405.4" stroke-dashoffset="0.0"/>
<line class="dash" x1="1823.6" y1="52.7" x2="1823.6" y2="1395.4" stroke-dashoffset="6.0"/>
<line class="dash" x1="2020.3" y1="53.6" x2="2020.3" y2="1402.6" stroke-dashoffset="0.0"/>
</g>
<text id="xtitle" transform="translate(0,1647.0) scale(1,1.02)" font-size="115.5" fill="#0000ff"><tspan x="591.19" y="0.00">Wavenumber </tspan><tspan x="1346.69" y="0.00" textLength="33.51" lengthAdjust="spacingAndGlyphs">(</tspan><tspan x="1384.24" y="0.00" textLength="165.04" lengthAdjust="spacingAndGlyphs">cm</tspan><tspan x="1547.12" y="-38.62" font-size="84.80" style="font-weight:normal">−</tspan><tspan x="1595.80" y="-46.27" font-size="79.80" textLength="43.38" lengthAdjust="spacingAndGlyphs">1</tspan><tspan x="1640.90" y="0.00" textLength="33.75" lengthAdjust="spacingAndGlyphs">)</tspan></text>
<text id="ytitle" transform="translate(112.0,1231.20) rotate(-90) scale(1,1.02)" font-size="115.5" fill="#0000ff">Transmittance (%)</text>
</svg>
</body>
</html>
